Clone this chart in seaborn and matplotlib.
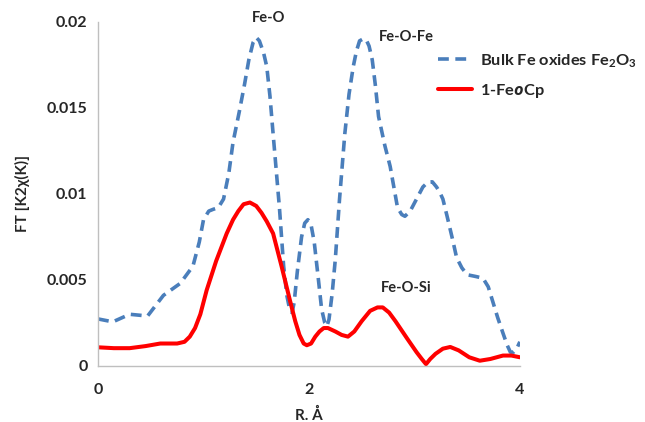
import numpy as np
import pandas as pd
import matplotlib
matplotlib.use("Agg")
import matplotlib.pyplot as plt
import seaborn as sns

# values
bulk_r = [0.0, 0.14, 0.30, 0.47, 0.62, 0.78, 0.90, 0.96, 1.00, 1.05, 1.09, 1.14, 1.19, 1.24, 1.28,
          1.34, 1.39, 1.43, 1.47, 1.50, 1.53, 1.57, 1.60, 1.63, 1.66, 1.72, 1.76, 1.79, 1.82, 1.84,
          1.86, 1.89, 1.93, 1.96, 1.99, 2.02, 2.05, 2.09, 2.12, 2.15, 2.17, 2.19, 2.22, 2.25, 2.29,
          2.34, 2.38, 2.42, 2.45, 2.48, 2.51, 2.54, 2.57, 2.60, 2.63, 2.66, 2.72, 2.77, 2.84, 2.88,
          2.91, 2.96, 3.02, 3.08, 3.13, 3.17, 3.21, 3.24, 3.27, 3.31, 3.36, 3.40, 3.45, 3.50, 3.58,
          3.65, 3.70, 3.74, 3.79, 3.84, 3.88, 3.91, 3.94, 3.97, 4.0]
bulk_ft = [0.00273, 0.00256, 0.0030, 0.0029, 0.0041, 0.0048, 0.0058, 0.0072, 0.0085, 0.0090, 0.0091,
           0.0092, 0.0097, 0.0112, 0.0130, 0.0148, 0.0164, 0.0178, 0.0188, 0.0191, 0.0189, 0.0182,
           0.0174, 0.0157, 0.0135, 0.0092, 0.0058, 0.0041, 0.0032, 0.0031, 0.0037, 0.0055, 0.0075,
           0.0083, 0.0085, 0.0082, 0.0072, 0.0050, 0.0033, 0.0025, 0.0023, 0.0027, 0.0042, 0.0062,
           0.0097, 0.0135, 0.0158, 0.0174, 0.0183, 0.0189, 0.0190, 0.0190, 0.0186, 0.0178, 0.0163,
           0.0145, 0.0128, 0.0116, 0.0092, 0.0088, 0.0087, 0.0090, 0.0097, 0.0104, 0.0107, 0.0107,
           0.0104, 0.0101, 0.0097, 0.0087, 0.0074, 0.0063, 0.0057, 0.0053, 0.0052, 0.0051, 0.0046,
           0.0038, 0.0028, 0.0019, 0.0012, 0.0008, 0.0008, 0.0010, 0.0014]

film_r = [0.0, 0.15, 0.30, 0.45, 0.59, 0.75, 0.82, 0.87, 0.92, 0.97, 1.03, 1.12, 1.22, 1.28, 1.33,
          1.38, 1.44, 1.50, 1.55, 1.60, 1.66, 1.74, 1.82, 1.87, 1.91, 1.95, 1.98, 2.02, 2.06, 2.10,
          2.14, 2.18, 2.25, 2.31, 2.37, 2.43, 2.50, 2.58, 2.65, 2.70, 2.76, 2.82, 2.93, 3.02, 3.07,
          3.11, 3.15, 3.20, 3.27, 3.34, 3.42, 3.52, 3.62, 3.72, 3.84, 3.92, 4.0]
film_ft = [0.00108, 0.00103, 0.00103, 0.00115, 0.0013, 0.0013, 0.0014, 0.0017, 0.0022, 0.0030,
           0.0044, 0.0061, 0.0077, 0.0085, 0.0090, 0.0094, 0.0095, 0.0093, 0.0089, 0.0084, 0.0077,
           0.0058, 0.0038, 0.0026, 0.0018, 0.0013, 0.0012, 0.0013, 0.0017, 0.0020, 0.0022, 0.0022,
           0.0020, 0.0018, 0.0017, 0.0020, 0.0026, 0.0032, 0.0034, 0.0034, 0.0031, 0.0026, 0.0016,
           0.0008, 0.0004, 0.0001, 0.0004, 0.0007, 0.0010, 0.0011, 0.0009, 0.0005, 0.0003, 0.0004,
           0.0006, 0.0006, 0.0005]

y_ticks = [0, 0.005, 0.01, 0.015, 0.02]
y_labels = ["0", "0.005", "0.01", "0.015", "0.02"]
x_ticks = [0, 2, 4]

sns.set_style("white")
plt.rcParams["font.family"] = ["Lato", "DejaVu Sans"]
plt.rcParams["mathtext.fontset"] = "custom"
plt.rcParams["mathtext.rm"] = "Lato:bold"
plt.rcParams["mathtext.it"] = "Open Sans:italic:bold"
plt.rcParams["mathtext.bf"] = "Lato:bold"

bulk = pd.DataFrame({"R": bulk_r, "FT": bulk_ft})
film = pd.DataFrame({"R": film_r, "FT": film_ft})

fig = plt.figure(figsize=(6.45, 4.22), dpi=100)
ax = fig.add_axes([0.152, 0.133, 0.654, 0.815])

sns.lineplot(data=bulk, x="R", y="FT", ax=ax, color="#4A7EBB", lw=2.6,
             label="Bulk Fe oxides Fe$_2$O$_3$", sort=False)
ax.lines[-1].set_dashes((3.0, 1.8))
ax.lines[-1].set_dash_joinstyle("round")
sns.lineplot(data=film, x="R", y="FT", ax=ax, color="#FF0000", lw=2.9,
             label="1-Fe$\\mathit{o}$Cp", sort=False)
ax.lines[-1].set_solid_joinstyle("round")

ax.set_xlim(0, 4)
ax.set_ylim(0, 0.02)
ax.set_xticks(x_ticks)
ax.set_xticklabels([str(t) for t in x_ticks])
ax.set_yticks(y_ticks)
ax.set_yticklabels(y_labels)
ax.tick_params(axis="both", length=4, width=1, color="#BFBFBF", labelsize=11.5, direction="out")
ax.tick_params(axis="x", pad=8)
for lab in ax.get_xticklabels() + ax.get_yticklabels():
    lab.set_fontweight("bold")

for s in ["top", "right"]:
    ax.spines[s].set_visible(False)
for s in ["left", "bottom"]:
    ax.spines[s].set_color("#BFBFBF")
    ax.spines[s].set_linewidth(1)

ax.set_xlabel("R. Å", fontsize=11, fontweight="bold", labelpad=8)
ax.set_ylabel("FT [K2χ(K)]", fontsize=11, fontweight="bold", labelpad=12)

ax.text(1.62, 0.0198, "Fe-O", fontsize=10.5, fontweight="bold", ha="center", va="bottom")
ax.text(2.92, 0.0187, "Fe-O-Fe", fontsize=10.5, fontweight="bold", ha="center", va="bottom")
ax.text(2.92, 0.0041, "Fe-O-Si", fontsize=10.5, fontweight="bold", ha="center", va="bottom")

leg = ax.legend(loc="upper left", bbox_to_anchor=(0.77, 0.955), frameon=False,
                fontsize=11.8, handlelength=2.1, labelspacing=0.75, handletextpad=0.5)
for t in leg.get_texts():
    t.set_fontweight("bold")

fig.savefig("out.png", dpi=100)
